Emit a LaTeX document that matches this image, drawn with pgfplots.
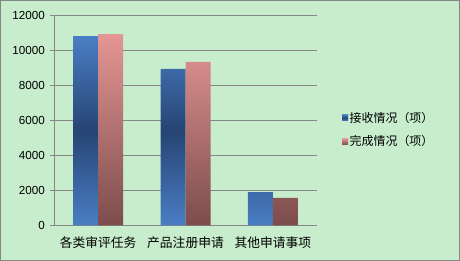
\documentclass[border=0pt]{standalone}
\usepackage{pgfplots}
\pgfplotsset{compat=1.18}
\usepackage{fontspec}
\setmainfont{Liberation Sans}
\newfontfamily\cjk{Noto Sans CJK SC}
\definecolor{bg}{RGB}{199,237,204}
\definecolor{gridgrey}{RGB}{134,134,134}
\definecolor{bluelight}{RGB}{74,126,196}
\definecolor{bluedark}{RGB}{38,68,116}
\definecolor{pinktop}{RGB}{228,150,148}
\definecolor{pinkbot}{RGB}{124,76,76}
\begin{document}
\begin{tikzpicture}
\useasboundingbox (0,0) rectangle (460bp,261bp);
\fill[bg] (0,0) rectangle (460bp,261bp);
\draw[gridgrey, line width=1bp] (0.5bp,0.5bp) rectangle (459.5bp,260.5bp);
\begin{axis}[
  at={(54.3bp,35.7bp)}, anchor=south west,
  scale only axis, width=262.4bp, height=210.3bp,
  xmin=-0.5, xmax=2.5, ymin=0, ymax=12000,
  axis x line*=bottom, axis y line*=left,
  axis line style={gridgrey, line width=0.8bp, -},
  ytick={0,2000,...,12000},
  scaled y ticks=false,
  ymajorgrids, grid style={gridgrey, line width=0.8bp},
  tick align=outside,
  major tick length=4.5bp,
  minor tick length=4.5bp,
  ytick style={gridgrey, line width=0.8bp},
  xtick={0,1,2},
  xticklabels={各类审评任务,产品注册申请,其他申请事项},
  xtick style={draw=none},
  minor xtick={-0.5,0.5,1.5,2.5},
  minor x tick style={gridgrey, line width=0.8bp},
  xticklabel style={font=\cjk\fontsize{12.8}{14}\selectfont, yshift=-3bp},
  yticklabel style={font=\fontsize{11.7}{14}\selectfont, xshift=-1.5bp},
  /pgf/number format/1000 sep={},
  /pgf/number format/assume math mode=true,
  ybar=0pt, bar width=25bp,
  legend style={at={(1.085,0.455)}, anchor=west, draw=none, fill=none,
    font=\cjk\fontsize{12}{14}\selectfont, row sep=9bp,
    nodes={inner sep=1.5bp}},
  legend cell align=left,
  legend image code/.code={\fill[#1] (0bp,-3bp) rectangle (6bp,3bp);},
]
\addplot[draw=none, top color=bluelight, bottom color=bluelight, middle color=bluedark]
  coordinates {(0,10800) (1,8920) (2,1900)};
\addplot[draw=none, top color=pinktop, bottom color=pinkbot]
  coordinates {(0,10910) (1,9320) (2,1560)};
\legend{接收情况（项）,完成情况（项）}
\end{axis}
\end{tikzpicture}
\end{document}
